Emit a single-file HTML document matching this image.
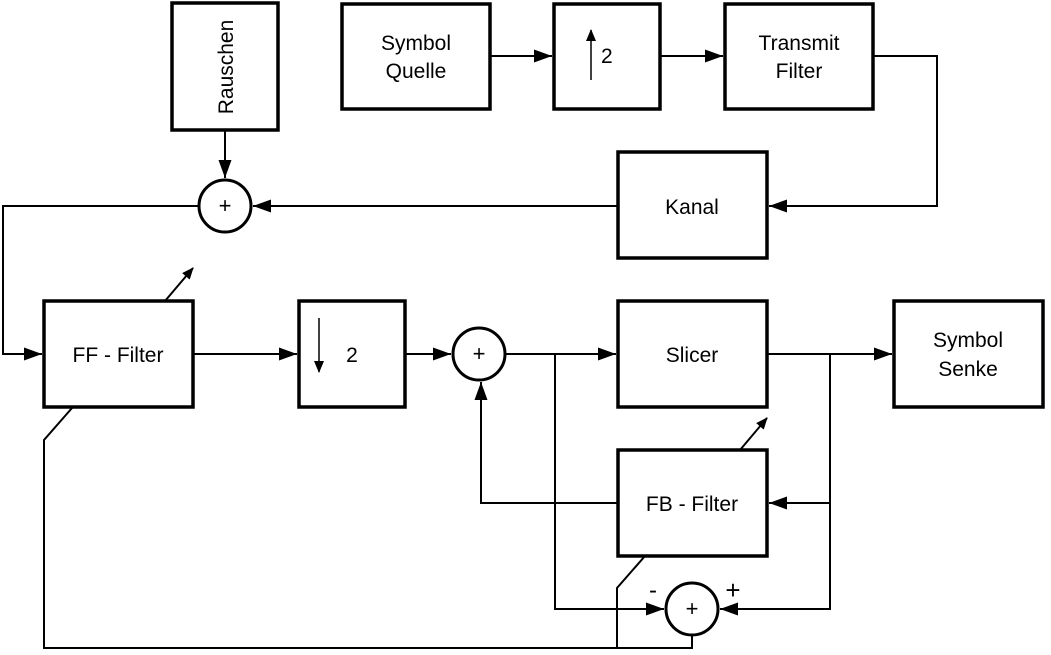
<!DOCTYPE html>
<html><head><meta charset="utf-8"><style>
html,body{margin:0;padding:0;background:#fff}
svg{display:block}
</style></head><body>
<svg width="1051" height="655" viewBox="0 0 1051 655" xmlns="http://www.w3.org/2000/svg" font-family="Liberation Sans, sans-serif" font-size="21">
<defs>
<marker id="a" markerWidth="12" markerHeight="12" refX="11" refY="6" orient="auto" markerUnits="userSpaceOnUse">
<path d="M0,1 L12,6 L0,11 z" fill="#000"/></marker>
<marker id="b" markerWidth="18" markerHeight="14" refX="18" refY="7" orient="auto" markerUnits="userSpaceOnUse">
<path d="M0,0.5 L18,7 L0,13.5 z" fill="#000"/></marker>
</defs>
<g fill="#fff" stroke="#000" stroke-width="3.5">
<rect x="172" y="3" width="106" height="127"/>
<rect x="342" y="4" width="148" height="105"/>
<rect x="554" y="4" width="106" height="105"/>
<rect x="725" y="4" width="148" height="105"/>
<rect x="618" y="152" width="149" height="106"/>
<rect x="44" y="301" width="149" height="106"/>
<rect x="299" y="301" width="106" height="106"/>
<rect x="618" y="301" width="149" height="106"/>
<rect x="894" y="301" width="149" height="106"/>
<rect x="618" y="450" width="149" height="106"/>
</g>
<g fill="#fff" stroke="#000" stroke-width="3">
<circle cx="225" cy="206" r="26"/>
<circle cx="479" cy="354" r="26"/>
<circle cx="692" cy="609" r="26"/>
</g>
<g fill="none" stroke="#000" stroke-width="2">
<line x1="490" y1="56" x2="552" y2="56" marker-end="url(#b)"/>
<line x1="660" y1="56" x2="723" y2="56" marker-end="url(#b)"/>
<polyline points="873,56 937,56 937,206 769,206" marker-end="url(#b)"/>
<line x1="618" y1="206" x2="253" y2="206" marker-end="url(#b)"/>
<line x1="225" y1="130" x2="225" y2="178" marker-end="url(#b)"/>
<polyline points="199,206 3,206 3,354 42,354" marker-end="url(#b)"/>
<line x1="193" y1="354" x2="297" y2="354" marker-end="url(#b)"/>
<line x1="405" y1="354" x2="451" y2="354" marker-end="url(#b)"/>
<line x1="505" y1="354" x2="616" y2="354" marker-end="url(#b)"/>
<line x1="767" y1="354" x2="892" y2="354" marker-end="url(#b)"/>
<polyline points="830,354 830,609 720,609" marker-end="url(#b)"/>
<line x1="830" y1="503" x2="769" y2="503" marker-end="url(#b)"/>
<polyline points="555,354 555,609 664,609" marker-end="url(#b)"/>
<polyline points="618,503 481,503 481,382" marker-end="url(#b)"/>
<polyline points="692,635 692,648 44,648 44,440 72,408"/>
<polyline points="617,648 617,588 645,556"/>
<line x1="165" y1="301" x2="193" y2="268" marker-end="url(#a)"/>
<line x1="740" y1="450" x2="767" y2="418" marker-end="url(#a)"/>
<line x1="591" y1="80" x2="591" y2="30" marker-end="url(#a)" stroke-width="1.5"/>
<line x1="319" y1="318" x2="319" y2="372" marker-end="url(#a)" stroke-width="1.5"/>
</g>
<g fill="#000">
<text x="416" y="50" text-anchor="middle">Symbol</text>
<text x="416" y="78" text-anchor="middle">Quelle</text>
<text x="601" y="63">2</text>
<text x="799" y="50" text-anchor="middle">Transmit</text>
<text x="799" y="78" text-anchor="middle">Filter</text>
<text x="692" y="214" text-anchor="middle">Kanal</text>
<text x="118" y="362" text-anchor="middle">FF - Filter</text>
<text x="352" y="362" text-anchor="middle">2</text>
<text x="692" y="362" text-anchor="middle">Slicer</text>
<text x="968" y="347" text-anchor="middle">Symbol</text>
<text x="968" y="376" text-anchor="middle">Senke</text>
<text x="692" y="511" text-anchor="middle">FB - Filter</text>
<text transform="translate(233,67) rotate(-90)" text-anchor="middle">Rauschen</text>
<text x="225" y="213" text-anchor="middle" font-size="22">+</text>
<text x="479" y="361" text-anchor="middle" font-size="22">+</text>
<text x="692" y="616" text-anchor="middle" font-size="22">+</text>
<text x="653" y="598" text-anchor="middle" font-size="24">-</text>
<text x="733" y="599" text-anchor="middle" font-size="26">+</text>
</g>
</svg>
</body></html>
